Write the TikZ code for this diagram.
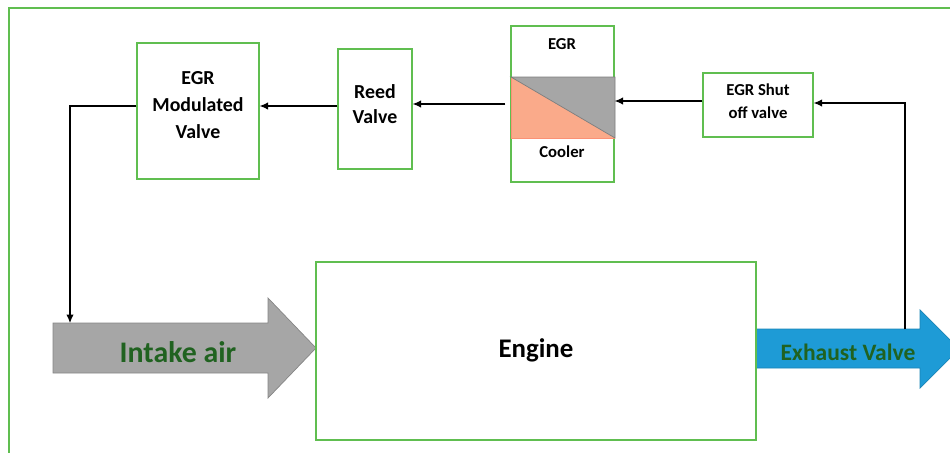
\documentclass[tikz,border=0pt]{standalone}
\usepackage{fontspec}
\setmainfont{Carlito}
\usetikzlibrary{arrows.meta}
\definecolor{boxgreen}{RGB}{96,190,80}
\definecolor{textgreen}{RGB}{32,98,32}
\definecolor{pipegray}{RGB}{166,166,166}
\definecolor{hotside}{RGB}{250,170,138}
\definecolor{exblue}{RGB}{30,155,214}
\tikzstyle{block}=[
  draw=boxgreen,
  line width=0.8pt,
  fill=white,
  align=center,
  inner sep=0pt
]
\tikzstyle{flow}=[
  draw=black,
  line width=0.6pt,
  -{Latex[length=1.7mm,width=1.5mm]}
]

\begin{document}
\begin{tikzpicture}[x=0.02cm, y=-0.02cm]
  \clip (0,0) rectangle (950,453);

  % frame
  \draw[boxgreen, line width=1.1pt] (9,8) rectangle (970,470);

  % intake and exhaust pipes
  \draw[fill=pipegray, draw=pipegray!80!black, line width=0.4pt]
    (53,323) -- (268,323) -- (268,298) -- (316,348) -- (268,398) -- (268,373) -- (53,373) -- cycle;
  \draw[fill=exblue, draw=exblue!85!black, line width=0.4pt]
    (756,329) -- (920,329) -- (920,310) -- (959,349) -- (920,388) -- (920,368) -- (756,368) -- cycle;
  \node[text=textgreen, font=\fontsize{17}{20}\selectfont\bfseries] (intake) at (178,352) {Intake air};
  \node[text=textgreen, font=\fontsize{13.4}{16}\selectfont\bfseries] (exhaust) at (848,352) {Exhaust Valve};
  \coordinate (inpipe) at (70,323);
  \coordinate (expipe) at (905,329);

  % engine
  \node[block, minimum width=8.8cm, minimum height=3.56cm, text depth=0.12cm, font=\fontsize{15.3}{18}\selectfont\bfseries] (engine) at (536,351) {Engine};

  % egr loop
  \node[block, minimum width=2.44cm, minimum height=2.72cm, text depth=0.24cm, font=\fontsize{11.3}{15.3}\selectfont\bfseries] (modv) at (198,111) {EGR\\Modulated\\Valve};
  \node[block, minimum width=1.48cm, minimum height=2.4cm, text depth=0.2cm, font=\fontsize{11.3}{14.2}\selectfont\bfseries] (reed) at (375,109) {Reed\\Valve};
  \node[block, minimum width=2.06cm, minimum height=3.12cm] (cooler) at (562.5,104) {};
  \node[block, minimum width=2.2cm, minimum height=1.28cm, text depth=0.14cm, font=\fontsize{9.5}{13}\selectfont\bfseries] (shut) at (758,105) {EGR Shut\\off valve};

  % cooler core
  \fill[hotside] (511,77) -- (511,138) -- (615,138) -- cycle;
  \draw[hotside!85!red, line width=0.4pt] (511,77) -- (511,138) -- (615,138);
  \draw[fill=pipegray, draw=pipegray!75!black, line width=0.4pt] (511,77) -- (615,77) -- (615,138) -- cycle;
  \node[font=\fontsize{9.5}{12}\selectfont\bfseries] (coolertop) at (562,44) {EGR};
  \node[font=\fontsize{9.5}{12}\selectfont\bfseries] (coolerbot) at (562,152) {Cooler};

  % connect loop
  \draw[flow] (expipe) |- ([yshift=0.04cm]shut.east);
  \draw[flow] ([yshift=0.08cm]shut.west) -- ([yshift=0.08cm]shut.west -| cooler.east);
  \draw[flow, shorten <=0.1cm] (cooler.west) -- (cooler.west -| reed.east);
  \draw[flow] ([yshift=0.06cm]reed.west) -- ([yshift=0.06cm]reed.west -| modv.east);
  \draw[flow] ([yshift=0.1cm]modv.west) -| (inpipe);
\end{tikzpicture}
\end{document}
